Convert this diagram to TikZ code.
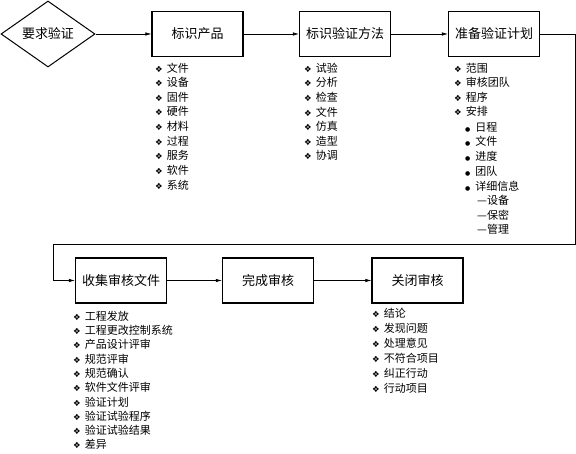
\documentclass[tikz,border=0pt]{standalone}
\usepackage{fontspec}
\setmainfont{Noto Sans CJK SC}
\newfontfamily\symfont{DejaVu Sans}
\usetikzlibrary{shapes.geometric,arrows.meta}
\newcommand{\bul}{{\symfont\fontsize{8.5}{8.5}\selectfont ❖}\hspace{4pt}}
\newcommand{\dotb}{{\symfont\fontsize{6}{6}\selectfont ●}\hspace{5pt}}
\begin{document}
\begin{tikzpicture}[x=1pt,y=-1pt,
  stepbox/.style={draw,line width=1.3pt,minimum width=91pt,minimum height=45pt,inner sep=0pt,font=\fontsize{13}{13}\selectfont},
  item/.style={anchor=west,inner sep=0pt,font=\fontsize{11}{11}\selectfont},
  conn/.style={line width=0.6pt,-{Latex[length=6pt,width=3.5pt]}},
  line/.style={line width=0.6pt}]
\useasboundingbox (0,0) rectangle (576,454);
\node[draw,diamond,aspect=1.45,line width=1pt,minimum width=94pt,minimum height=66pt,inner sep=0pt,font=\fontsize{13}{13}\selectfont] (d) at (48,34) {要求验证};
\node[stepbox] (b1) at (197.5,34) {标识产品};
\node[stepbox] (b2) at (345,34) {标识验证方法};
\node[stepbox] (b3) at (494,34) {准备验证计划};
\node[stepbox] (b4) at (121,280.5) {收集审核文件};
\node[stepbox] (b5) at (268,280.5) {完成审核};
\node[stepbox] (b6) at (417.5,280.5) {关闭审核};
\coordinate (c1) at (575,34);
\coordinate (c2) at (575,244);
\coordinate (c3) at (53,244);
\coordinate (c4) at (53,280.5);
\draw[conn] (d.east) -- (b1.west);
\draw[conn] (b1.east) -- (b2.west);
\draw[conn] (b2.east) -- (b3.west);
\draw[conn] (b3.east) -- (c1) -- (c2) -- (c3) -- (c4) -- (b4.west);
\draw[conn] (b4.east) -- (b5.west);
\draw[conn] (b5.east) -- (b6.west);
\foreach \t [count=\i] in {文件,设备,固件,硬件,材料,过程,服务,软件,系统}
  \node[item] (pa\i) at (155,{68+14.6*(\i-1)}) {\bul\t};
\foreach \t [count=\i] in {试验,分析,检查,文件,仿真,造型,协调}
  \node[item] (pb\i) at (304,{68+14.6*(\i-1)}) {\bul\t};
\foreach \t [count=\i] in {范围,审核团队,程序,安排}
  \node[item] (pc\i) at (454,{68+14.6*(\i-1)}) {\bul\t};
\foreach \t [count=\i] in {日程,文件,进度,团队,详细信息}
  \node[item] (pd\i) at (465,{127+14.7*(\i-1)}) {\dotb\t};
\foreach \t [count=\i] in {设备,保密,管理}
  \node[item] (pe\i) at (477,{200+14.9*(\i-1)}) {—\t};
\foreach \t [count=\i] in {工程发放,工程更改控制系统,产品设计评审,规范评审,规范确认,软件文件评审,验证计划,验证试验程序,验证试验结果,差异}
  \node[item] (pf\i) at (73,{316+14.3*(\i-1)}) {\bul\t};
\foreach \t [count=\i] in {结论,发现问题,处理意见,不符合项目,纠正行动,行动项目}
  \node[item] (pg\i) at (372,{313+15*(\i-1)}) {\bul\t};
\end{tikzpicture}
\end{document}
